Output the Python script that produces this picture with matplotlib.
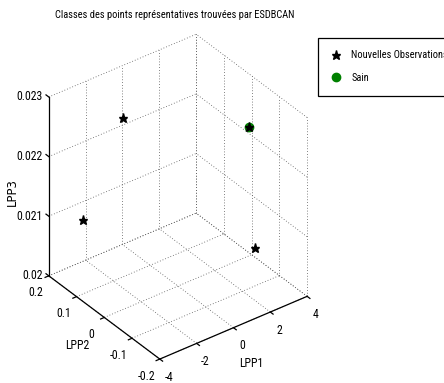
import matplotlib
matplotlib.use("Agg")
import matplotlib.pyplot as plt
from matplotlib.lines import Line2D

FONT = ["Roboto Condensed", "Liberation Sans", "DejaVu Sans"]
plt.rcParams["font.family"] = FONT
FS = 7.5
FS_TICK = 8.5

TITLE = "Classes des points représentatives trouvées par ESDBCAN"

X_TICKS = [-4, -2, 0, 2, 4]
Y_TICKS = [-0.2, -0.1, 0, 0.1, 0.2]
Z_TICKS = [0.02, 0.021, 0.022, 0.023]
X_LABELS = ["-4", "-2", "0", "2", "4"]
Y_LABELS = ["-0.2", "-0.1", "0", "0.1", "0.2"]
Z_LABELS = ["0.02", "0.021", "0.022", "0.023"]

# nouvelles observations (étoiles)
OBS_X = [-2.4, -2.16, 4.0, 1.56]
OBS_Y = [0.04, 0.2, -0.011, -0.154]
OBS_Z = [0.023, 0.0207, 0.02015, 0.023]
# classe saine (cercle vert)
SAIN_X = [1.56]
SAIN_Y = [-0.154]
SAIN_Z = [0.023]

X0, X1 = X_TICKS[0], X_TICKS[-1]
Y0, Y1 = Y_TICKS[0], Y_TICKS[-1]
Z0, Z1 = Z_TICKS[0], Z_TICKS[-1]

GRID = dict(color="0.35", linestyle=(0, (1, 2.4)), linewidth=0.6)
AXIS = dict(color="black", linewidth=0.9)

fig = plt.figure(figsize=(4.44, 3.83), dpi=100)
ax = fig.add_axes([-0.01, -0.016, 0.8, 0.98], projection="3d", proj_type="ortho")
ax.view_init(elev=34.4, azim=-127)
ax.set_box_aspect((1, 1, 1.175), zoom=0.927)
ax.set_xlim(X0, X1)
ax.set_ylim(Y0, Y1)
ax.set_zlim(Z0, Z1)
ax.set_axis_off()

# grilles sur les plans du fond et le sol
for x in X_TICKS:
    ax.plot([x, x], [Y1, Y1], [Z0, Z1], **GRID)
    ax.plot([x, x], [Y0, Y1], [Z0, Z0], **GRID)
for y in Y_TICKS:
    ax.plot([X1, X1], [y, y], [Z0, Z1], **GRID)
    ax.plot([X0, X1], [y, y], [Z0, Z0], **GRID)
for z in Z_TICKS:
    ax.plot([X0, X1], [Y1, Y1], [z, z], **GRID)
    ax.plot([X1, X1], [Y0, Y1], [z, z], **GRID)

# axes pleins
ax.plot([X0, X1], [Y0, Y0], [Z0, Z0], **AXIS)
ax.plot([X0, X0], [Y0, Y1], [Z0, Z0], **AXIS)
ax.plot([X0, X0], [Y1, Y1], [Z0, Z1], **AXIS)

# graduations vers l'extérieur, comme MATLAB
dx = (X1 - X0) * 0.025
dy = (Y1 - Y0) * 0.025
dz_lab = 0.00019
for x, lab in zip(X_TICKS, X_LABELS):
    ax.plot([x, x], [Y0, Y0 - dy], [Z0, Z0], **AXIS)
    ax.text(x, Y0 - 0.032, Z0 - dz_lab, lab, ha="center", va="center", fontsize=FS_TICK)
for y, lab in zip(Y_TICKS, Y_LABELS):
    ax.plot([X0, X0 - dx], [y, y], [Z0, Z0], **AXIS)
    ax.text(X0 - 0.72, y, Z0 - dz_lab, lab, ha="center", va="center", fontsize=FS_TICK)
for z, lab in zip(Z_TICKS, Z_LABELS):
    ax.plot([X0, X0], [Y1, Y1 + dy], [z, z], **AXIS)
    ax.text(X0 - 0.21, Y1 + 0.008, z, lab, ha="right", va="center", fontsize=FS_TICK)

ax.text(-0.53, Y0 - 0.099, Z0 - dz_lab, "LPP1", ha="center", va="center", fontsize=FS_TICK)
ax.text(X0 - 1.71, -0.017, Z0 - dz_lab, "LPP2", ha="center", va="center", fontsize=FS_TICK)
fig.text(12 / 444, 1 - 192 / 383, "LPP3", rotation=90, ha="center", va="center",
         fontsize=8.5, family="DejaVu Sans")

ax.plot(SAIN_X, SAIN_Y, SAIN_Z, linestyle="none", marker="o", markersize=6,
        color="#008000", label="Sain")
ax.plot(OBS_X, OBS_Y, OBS_Z, linestyle="none", marker="*", markersize=6.5,
        color="black", label="Nouvelles Observations")

fig.text(175 / 444, 1 - 15 / 383, TITLE, ha="center", va="center", fontsize=FS)

handles = [
    Line2D([], [], linestyle="none", marker="*", markersize=6.5, color="black"),
    Line2D([], [], linestyle="none", marker="o", markersize=6, color="#008000"),
]
leg = fig.legend(handles, ["Nouvelles Observations", "Sain"], loc="upper left",
                 bbox_to_anchor=(318 / 444, 1 - 38 / 383), fontsize=FS,
                 fancybox=False, edgecolor="black", framealpha=1,
                 borderpad=1.2, handlelength=1.0, handletextpad=1.0,
                 labelspacing=1.2, borderaxespad=0)
leg.get_frame().set_linewidth(0.9)

fig.savefig("out.png", dpi=100)
